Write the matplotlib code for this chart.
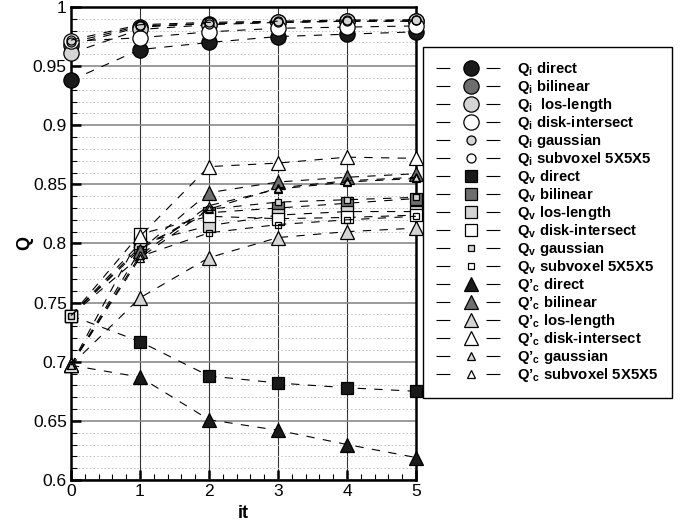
import matplotlib
matplotlib.use('Agg')
import matplotlib.pyplot as plt
from matplotlib.lines import Line2D
from matplotlib.ticker import MultipleLocator

plt.rcParams['font.family'] = ['Liberation Sans', 'DejaVu Sans']
plt.rcParams['mathtext.fontset'] = 'custom'
plt.rcParams['mathtext.rm'] = 'Liberation Sans:bold'
plt.rcParams['mathtext.bf'] = 'Liberation Sans:bold'
plt.rcParams['lines.scale_dashes'] = False

# iteracoes
it = [0, 1, 2, 3, 4, 5]

# Q_i
qi_direct = [0.938, 0.964, 0.970, 0.975, 0.977, 0.979]
qi_bilinear = [0.968, 0.983, 0.986, 0.987, 0.988, 0.988]
qi_los = [0.961, 0.981, 0.985, 0.987, 0.988, 0.988]
qi_disk = [0.971, 0.974, 0.979, 0.982, 0.983, 0.984]
qi_gauss = [0.970, 0.984, 0.986, 0.987, 0.988, 0.989]
qi_sub = [0.972, 0.985, 0.987, 0.988, 0.989, 0.989]

# Q_v
qv_direct = [0.739, 0.717, 0.688, 0.682, 0.678, 0.675]
qv_bilinear = [0.739, 0.797, 0.826, 0.830, 0.834, 0.838]
qv_los = [0.739, 0.800, 0.815, 0.824, 0.827, 0.827]
qv_disk = [0.739, 0.808, 0.823, 0.821, 0.822, 0.824]
qv_gauss = [0.739, 0.795, 0.829, 0.835, 0.837, 0.839]
qv_sub = [0.739, 0.789, 0.809, 0.816, 0.820, 0.823]

# Q'_c
qc_direct = [0.697, 0.687, 0.651, 0.642, 0.630, 0.619]
qc_bilinear = [0.697, 0.794, 0.843, 0.852, 0.856, 0.859]
qc_los = [0.697, 0.754, 0.788, 0.805, 0.810, 0.813]
qc_disk = [0.697, 0.806, 0.865, 0.868, 0.873, 0.872]
qc_gauss = [0.697, 0.790, 0.832, 0.846, 0.852, 0.855]
qc_sub = [0.697, 0.788, 0.829, 0.847, 0.853, 0.856]

labels = [
    r'Q$_\mathrm{i}$ direct', r'Q$_\mathrm{i}$ bilinear', r'Q$_\mathrm{i}$  los-length',
    r'Q$_\mathrm{i}$ disk-intersect', r'Q$_\mathrm{i}$ gaussian', r'Q$_\mathrm{i}$ subvoxel 5X5X5',
    r'Q$_\mathrm{v}$ direct', r'Q$_\mathrm{v}$ bilinear', r'Q$_\mathrm{v}$ los-length',
    r'Q$_\mathrm{v}$ disk-intersect', r'Q$_\mathrm{v}$ gaussian', r'Q$_\mathrm{v}$ subvoxel 5X5X5',
    r'Q’$_\mathrm{c}$ direct', r'Q’$_\mathrm{c}$ bilinear', r'Q’$_\mathrm{c}$ los-length',
    r'Q’$_\mathrm{c}$ disk-intersect', r'Q’$_\mathrm{c}$ gaussian', r'Q’$_\mathrm{c}$ subvoxel 5X5X5',
]

series = [qi_direct, qi_bilinear, qi_los, qi_disk, qi_gauss, qi_sub,
          qv_direct, qv_bilinear, qv_los, qv_disk, qv_gauss, qv_sub,
          qc_direct, qc_bilinear, qc_los, qc_disk, qc_gauss, qc_sub]

# estilo: (marcador, tamanho, cor de preenchimento)
fills = ['#1a1a1a', '#6e6e6e', '#d4d4d4', 'white', '#d4d4d4', 'none']
big = {'o': 11, 's': 9, '^': 9.5}
small = {'o': 6.5, 's': 5, '^': 6}
styles = []
for mk in ['o', 's', '^']:
    for k in range(6):
        ms = big[mk] if k < 4 else small[mk]
        styles.append((mk, ms, fills[k]))

fig = plt.figure(figsize=(6.85, 5.26), dpi=100)
ax = fig.add_axes([0.1036, 0.0875, 0.5036, 0.8992])

handles = []
for y, (mk, ms, fc), lab in zip(series, styles, labels):
    ax.plot(it, y, linestyle='--', dashes=(6, 6), color='black', lw=0.8,
            marker=mk, markersize=ms, markerfacecolor=fc, markeredgecolor='black',
            markeredgewidth=0.9, clip_on=False, zorder=3)
    handles.append(Line2D([], [], linestyle='--', dashes=(10, 26), color='black', lw=0.8,
                          marker=mk, markersize=ms, markerfacecolor=fc,
                          markeredgecolor='black', markeredgewidth=0.9))

ax.set_xlim(0, 5)
ax.set_ylim(0.6, 1.0)
ax.xaxis.set_major_locator(MultipleLocator(1))
ax.xaxis.set_minor_locator(MultipleLocator(0.2))
ax.yaxis.set_major_locator(MultipleLocator(0.05))
ax.yaxis.set_minor_locator(MultipleLocator(0.01))
ax.set_yticks([0.6, 0.65, 0.7, 0.75, 0.8, 0.85, 0.9, 0.95, 1.0])
ax.set_yticklabels(['0.6', '0.65', '0.7', '0.75', '0.8', '0.85', '0.9', '0.95', '1'])

ax.grid(axis='y', which='major', color='#8a8a8a', lw=1.2, zorder=1)
ax.grid(axis='x', which='major', color='#333333', lw=0.8, zorder=1)
ax.grid(axis='y', which='minor', color='#bbbbbb', lw=0.7, linestyle=':', zorder=1)
ax.set_axisbelow(True)

ax.tick_params(which='major', direction='in', length=7, width=1.8, labelsize=12.5, pad=3)
ax.tick_params(which='minor', direction='in', length=4, width=0.8)
for s in ax.spines.values():
    s.set_linewidth(1.8)

ax.set_xlabel('it', fontsize=13, fontweight='bold', labelpad=4)
ax.set_ylabel('Q', fontsize=13, fontweight='bold', labelpad=0)

leg = fig.legend(handles, labels, loc='upper left', bbox_to_anchor=(0.6175, 0.9106),
                 borderaxespad=0, prop={'weight': 'bold', 'size': 10.7},
                 handlelength=4.6, handletextpad=0.85, labelspacing=0.0,
                 borderpad=0.9, fancybox=False, edgecolor='black', framealpha=1)
leg.get_frame().set_linewidth(1.0)

plt.savefig('out.png', dpi=100)
